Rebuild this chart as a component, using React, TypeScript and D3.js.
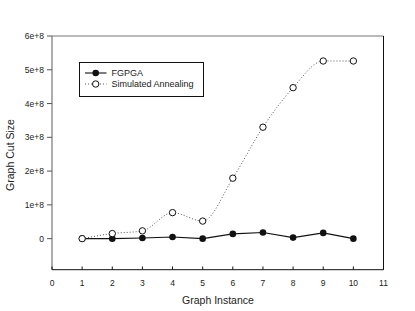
import React, { useEffect, useRef } from 'react'
import * as d3 from 'd3'

const instances = [1, 2, 3, 4, 5, 6, 7, 8, 9, 10]
const fgpga = [0, 0, 0.02e8, 0.05e8, 0, 0.14e8, 0.18e8, 0.03e8, 0.17e8, 0]
const annealing = [0, 0.15e8, 0.23e8, 0.77e8, 0.52e8, 1.79e8, 3.3e8, 4.47e8, 5.26e8, 5.26e8]
const xTicks = [0, 1, 2, 3, 4, 5, 6, 7, 8, 9, 10, 11]
const yTicks = [0, 1e8, 2e8, 3e8, 4e8, 5e8, 6e8]
const yTickLabels = ['0', '1e+8', '2e+8', '3e+8', '4e+8', '5e+8', '6e+8']

const W = 415
const H = 311
const font = 'Arial, "Liberation Sans", sans-serif'

const App = () => {
  const ref = useRef<SVGSVGElement>(null)

  useEffect(() => {
    const svg = d3.select(ref.current)
    svg.selectAll('*').remove()

    const x = d3.scaleLinear().domain([0, 11]).range([52, 383.5])
    const y = d3.scaleLinear().domain([-0.92e8, 6e8]).range([269.7, 36])

    // frame: top & left grey, bottom & right dark
    svg.append('line').attr('x1', 52).attr('x2', 383.5).attr('y1', 36).attr('y2', 36)
      .style('stroke', '#777').style('stroke-width', 1.2)
    svg.append('line').attr('x1', 52).attr('x2', 52).attr('y1', 36).attr('y2', 269.7)
      .style('stroke', '#777').style('stroke-width', 1.2)
    svg.append('line').attr('x1', 383.5).attr('x2', 383.5).attr('y1', 36).attr('y2', 269.7)
      .style('stroke', '#111').style('stroke-width', 1)
    svg.append('line').attr('x1', 52).attr('x2', 383.5).attr('y1', 269.7).attr('y2', 269.7)
      .style('stroke', '#111').style('stroke-width', 1)

    // y ticks
    const yAxis = svg.append('g')
    yTicks.forEach((t, i) => {
      yAxis.append('line').attr('x1', 47).attr('x2', 52).attr('y1', y(t)).attr('y2', y(t))
        .style('stroke', '#555').style('stroke-width', 1)
      yAxis.append('text').attr('x', 44).attr('y', y(t)).attr('dy', '0.35em')
        .attr('text-anchor', 'end').style('font-family', font).style('font-size', '8.5px')
        .style('fill', '#222').text(yTickLabels[i])
    })

    // x ticks
    const xAxis = svg.append('g')
    xTicks.forEach(t => {
      xAxis.append('line').attr('x1', x(t)).attr('x2', x(t)).attr('y1', 266.5).attr('y2', 269.7)
        .style('stroke', '#111').style('stroke-width', 1)
      xAxis.append('text').attr('x', x(t)).attr('y', 286)
        .attr('text-anchor', 'middle').style('font-family', font).style('font-size', '8.5px')
        .style('fill', '#222').text(String(t))
    })

    svg.append('text').attr('x', 218).attr('y', 304).attr('text-anchor', 'middle')
      .style('font-family', font).style('font-size', '10.5px').style('fill', '#222')
      .text('Graph Instance')
    svg.append('text').attr('transform', 'translate(14,155) rotate(-90)').attr('text-anchor', 'middle')
      .style('font-family', font).style('font-size', '10.5px').style('fill', '#222')
      .text('Graph Cut Size')

    // simulated annealing, dotted smooth line
    const saLine = d3.line<number>().x((d, i) => x(instances[i])).y(d => y(d)).curve(d3.curveMonotoneX)
    svg.append('path').datum(annealing).attr('d', saLine).style('fill', 'none')
      .style('stroke', '#555').style('stroke-width', 1).style('stroke-dasharray', '1,2')

    const fgLine = d3.line<number>().x((d, i) => x(instances[i])).y(d => y(d))
    svg.append('path').datum(fgpga).attr('d', fgLine).style('fill', 'none')
      .style('stroke', '#111').style('stroke-width', 1.1)

    svg.selectAll('.fg').data(fgpga).enter().append('circle').attr('class', 'fg')
      .attr('cx', (d, i) => x(instances[i])).attr('cy', d => y(d)).attr('r', 3.3)
      .style('fill', '#111')
    svg.selectAll('.sa').data(annealing).enter().append('circle').attr('class', 'sa')
      .attr('cx', (d, i) => x(instances[i])).attr('cy', d => y(d)).attr('r', 3.2)
      .style('fill', 'white').style('stroke', '#111').style('stroke-width', 1)

    // legend
    const lg = svg.append('g')
    lg.append('rect').attr('x', 79.5).attr('y', 62.5).attr('width', 124).attr('height', 34)
      .style('fill', 'white').style('stroke', '#111').style('stroke-width', 1)
    lg.append('line').attr('x1', 85).attr('x2', 106.5).attr('y1', 73).attr('y2', 73)
      .style('stroke', '#111').style('stroke-width', 1.1)
    lg.append('circle').attr('cx', 95.7).attr('cy', 73).attr('r', 3.3).style('fill', '#111')
    lg.append('text').attr('x', 111.5).attr('y', 73).attr('dy', '0.35em')
      .style('font-family', font).style('font-size', '9px').style('fill', '#222').text('FGPGA')
    lg.append('line').attr('x1', 85).attr('x2', 106.5).attr('y1', 84).attr('y2', 84)
      .style('stroke', '#555').style('stroke-width', 1).style('stroke-dasharray', '1,2')
    lg.append('circle').attr('cx', 95.7).attr('cy', 84).attr('r', 3.2)
      .style('fill', 'white').style('stroke', '#111').style('stroke-width', 1)
    lg.append('text').attr('x', 111.5).attr('y', 84).attr('dy', '0.35em')
      .style('font-family', font).style('font-size', '9px').style('fill', '#222').text('Simulated Annealing')
  }, [])

  return (
    <svg ref={ref} width={W} height={H}
      style={{ position: 'absolute', left: 0, top: 0, background: 'white' }} />
  )
}

export default App
